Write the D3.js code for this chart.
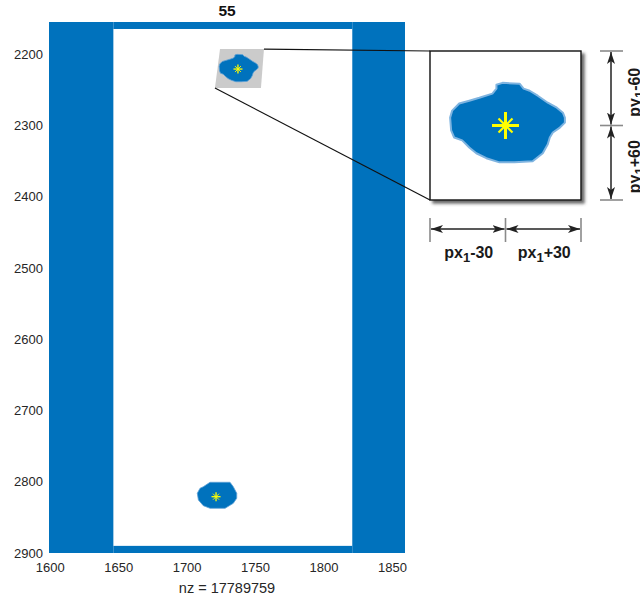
<!DOCTYPE html>
<html>
<head>
<meta charset="utf-8">
<script src="https://cdn.jsdelivr.net/npm/d3@7"></script>
<style>
body { margin: 0; background: #fff; }
text { font-family: "Liberation Sans", Arial, sans-serif; }
</style>
</head>
<body>
<div id="chart"></div>
<script>
const title = '55'
const xLabel = 'nz = 17789759'
const xTicks = [1600, 1650, 1700, 1750, 1800, 1850]
const yTicks = [2200, 2300, 2400, 2500, 2600, 2700, 2800, 2900]
const xLimits = [1599.5, 1859.5]
const yLimits = [2155, 2900]

// nonzero bands of the matrix: [x0, x1, y0, y1]
const bands = [
    [1599.5, 1646.5, 2155, 2900],
    [1821, 1859.5, 2155, 2900],
    [1646.5, 1821, 2155, 2164.8],
    [1646.5, 1821, 2890, 2900]
]

const blobCenters = [[1737.5, 2221], [1721.5, 2821]]

// blob outlines, offsets from their centre in matrix units
const topBlob = [
    [-2.25, -17.8], [-2.25, -19.7], [-0.75, -20.6], [3.5, -20.2], [4.5, -17.8], [6, -16.8],
    [8, -14.4], [10.5, -11], [12.75, -8.6], [14.25, -6.2], [14.75, -3.8], [14.75, -1.4],
    [13.5, 1], [11.75, 3.4], [11, 5.8], [10.5, 9.1], [9.25, 13.4], [6.75, 17.3],
    [2.25, 17.8], [-1.5, 17.8], [-4.75, 15.8], [-7.25, 13.4], [-9, 10.6], [-10.75, 7.2],
    [-12.75, 5.8], [-13.5, 2.4], [-13.75, -3.8], [-13.25, -7.2], [-11.5, -10.6], [-9, -12],
    [-6.5, -13.4], [-3.25, -15.4]
]
const bottomBlob = [
    [-9.3, -14], [-4.4, -20.2], [10.2, -20.2], [12.6, -14], [15.1, -4.8], [15.1, 2.2],
    [12.6, 9.3], [6.6, 16.3], [-4.4, 16.3], [-9.3, 12.6], [-12.9, 4.6], [-13.7, -4.8],
    [-11.7, -11.8]
]

// zoom window around the first blob
const zoomBox = [[-13.1, -28], [19, -28], [16.8, 26.7], [-16.8, 26.7]]
const zoomHalf = [18.75, 36]
const xOffsetLabels = ['-30', '+30']
const yOffsetLabels = ['-60', '+60']

const blue = '#0072BD'

const svg = d3.select('#chart').append('svg')
    .attr('width', 640)
    .attr('height', 598)

const defs = svg.append('defs')
defs.append('filter')
    .attr('id', 'shadow')
    .attr('x', '-10%').attr('y', '-10%').attr('width', '130%').attr('height', '130%')
    .append('feDropShadow')
    .attr('dx', 3).attr('dy', 3).attr('stdDeviation', 1.6)
    .attr('flood-color', '#444').attr('flood-opacity', 0.8)

defs.append('marker')
    .attr('id', 'head')
    .attr('viewBox', '0 0 12 8')
    .attr('refX', 12).attr('refY', 4)
    .attr('markerWidth', 12).attr('markerHeight', 8)
    .attr('markerUnits', 'userSpaceOnUse')
    .attr('orient', 'auto-start-reverse')
    .append('path')
    .attr('d', 'M0,0 L12,4 L0,8 L3,4 Z')
    .attr('fill', '#222')

const x = d3.scaleLinear().domain(xLimits).range([49, 405])
const y = d3.scaleLinear().domain(yLimits).range([22, 553])

svg.append('g').selectAll('rect').data(bands).enter()
    .append('rect')
    .attr('x', d => x(d[0]))
    .attr('y', d => y(d[2]))
    .attr('width', d => x(d[1]) - x(d[0]))
    .attr('height', d => y(d[3]) - y(d[2]))
    .attr('fill', blue)

const c = blobCenters[0]

svg.append('polygon')
    .attr('points', zoomBox.map(p => [x(c[0] + p[0]), y(c[1] + p[1])].join(',')).join(' '))
    .attr('fill', '#cbcbcb')

function blobPath(pts, center, sx, sy) {
    return d3.line()
        .x(d => sx(center[0] + d[0]))
        .y(d => sy(center[1] + d[1]))
        .curve(d3.curveLinearClosed)(pts)
}

function star(g, px, py, r, rd, w) {
    const arms = [[r, 0], [0, r], [rd, rd], [rd, -rd]]
    g.append('g').selectAll('line').data(arms).enter()
        .append('line')
        .attr('x1', d => px - d[0]).attr('y1', d => py - d[1])
        .attr('x2', d => px + d[0]).attr('y2', d => py + d[1])
        .attr('stroke', '#ffff00')
        .attr('stroke-width', (d, i) => i < 2 ? w : w * 0.7)
}

const blobs = [topBlob, bottomBlob]
blobs.forEach((b, i) => {
    svg.append('path')
        .attr('d', blobPath(b, blobCenters[i], x, y))
        .attr('fill', blue)
        .attr('stroke', '#5c9fd6')
        .attr('stroke-width', 0.8)
    star(svg, x(blobCenters[i][0]), y(blobCenters[i][1]), 4.5, 3, 1.3)
})

// inset
const xi = d3.scaleLinear().domain([c[0] - zoomHalf[0], c[0] + zoomHalf[0]]).range([430, 581])
const yi = d3.scaleLinear().domain([c[1] - zoomHalf[1], c[1] + zoomHalf[1]]).range([51, 200])

svg.append('line')
    .attr('x1', x(c[0] + zoomBox[1][0])).attr('y1', y(c[1] + zoomBox[1][1]))
    .attr('x2', xi.range()[0]).attr('y2', yi.range()[0])
    .attr('stroke', '#111').attr('stroke-width', 1.2)

svg.append('line')
    .attr('x1', x(c[0] + zoomBox[3][0])).attr('y1', y(c[1] + zoomBox[3][1]))
    .attr('x2', xi.range()[0]).attr('y2', yi.range()[1])
    .attr('stroke', '#111').attr('stroke-width', 1.2)

svg.append('rect')
    .attr('x', xi.range()[0]).attr('y', yi.range()[0])
    .attr('width', xi.range()[1] - xi.range()[0])
    .attr('height', yi.range()[1] - yi.range()[0])
    .attr('fill', '#fff')
    .attr('stroke', '#111')
    .attr('stroke-width', 1.4)
    .attr('filter', 'url(#shadow)')

svg.append('path')
    .attr('d', blobPath(topBlob, c, xi, yi))
    .attr('fill', blue)
    .attr('stroke', '#7fb4e0')
    .attr('stroke-width', 2)
    .attr('stroke-linejoin', 'round')

star(svg, xi(c[0]), yi(c[1]), 13.5, 7, 3)

// dimension arrows
const ax = 611
const ay = 229
const yStops = [yi.range()[0], yi(c[1]), yi.range()[1]]
const xStops = [xi.range()[0], xi(c[0]), xi.range()[1]]

svg.append('g').selectAll('line').data(yStops).enter()
    .append('line')
    .attr('x1', ax - 11).attr('x2', ax + 12)
    .attr('y1', d => d).attr('y2', d => d)
    .attr('stroke', '#8a8a8a').attr('stroke-width', 1.6)

svg.append('g').selectAll('line').data(xStops).enter()
    .append('line')
    .attr('y1', ay - 11).attr('y2', ay + 13)
    .attr('x1', d => d).attr('x2', d => d)
    .attr('stroke', '#8a8a8a').attr('stroke-width', 1.6)

svg.append('g').selectAll('line').data([0, 1]).enter()
    .append('line')
    .attr('x1', ax).attr('x2', ax)
    .attr('y1', i => yStops[i] + 1).attr('y2', i => yStops[i + 1] - 1)
    .attr('stroke', '#222').attr('stroke-width', 1.5)
    .attr('marker-start', 'url(#head)').attr('marker-end', 'url(#head)')

svg.append('g').selectAll('line').data([0, 1]).enter()
    .append('line')
    .attr('y1', ay).attr('y2', ay)
    .attr('x1', i => xStops[i] + 1).attr('x2', i => xStops[i + 1] - 1)
    .attr('stroke', '#222').attr('stroke-width', 1.5)
    .attr('marker-start', 'url(#head)').attr('marker-end', 'url(#head)')

function subLabel(t, name, rest) {
    t.append('tspan').text(name)
    t.append('tspan').text('1').attr('font-size', 13).attr('dy', 4)
    t.append('tspan').text(rest).attr('dy', -4)
}

xOffsetLabels.forEach((s, i) => {
    const t = svg.append('text')
        .attr('x', (xStops[i] + xStops[i + 1]) / 2 + 1)
        .attr('y', 258)
        .attr('text-anchor', 'middle')
        .attr('font-size', 16)
        .attr('font-weight', 'bold')
        .attr('fill', '#1a1a1a')
    subLabel(t, 'px', s)
})

// the side labels run off the right edge, as in the original figure
yOffsetLabels.forEach((s, i) => {
    const cy = (yStops[i] + yStops[i + 1]) / 2 + 4
    const t = svg.append('text')
        .attr('transform', `translate(640,${cy}) rotate(-90)`)
        .attr('text-anchor', 'middle')
        .attr('font-size', 16)
        .attr('font-weight', 'bold')
        .attr('fill', '#1a1a1a')
    subLabel(t, 'py', s)
})

// axes
const xAxis = svg.append('g')
    .attr('transform', 'translate(0,553)')
    .call(d3.axisBottom(x).tickValues(xTicks).tickFormat(d3.format('d')).tickSize(0).tickPadding(10))
const yAxis = svg.append('g')
    .attr('transform', 'translate(49,0)')
    .call(d3.axisLeft(y).tickValues(yTicks).tickFormat(d3.format('d')).tickSize(0).tickPadding(6))

;[xAxis, yAxis].forEach(a => {
    a.select('.domain').remove()
    a.selectAll('text')
        .attr('font-family', '"Liberation Sans", Arial, sans-serif')
        .attr('font-size', 13)
        .attr('fill', '#262626')
})

svg.append('text')
    .attr('x', 227).attr('y', 16)
    .attr('text-anchor', 'middle')
    .attr('font-size', 15.5)
    .attr('font-weight', 'bold')
    .attr('fill', '#111')
    .text(title)

svg.append('text')
    .attr('x', 227).attr('y', 593)
    .attr('text-anchor', 'middle')
    .attr('font-size', 14.5)
    .attr('fill', '#262626')
    .text(xLabel)
</script>
</body>
</html>
